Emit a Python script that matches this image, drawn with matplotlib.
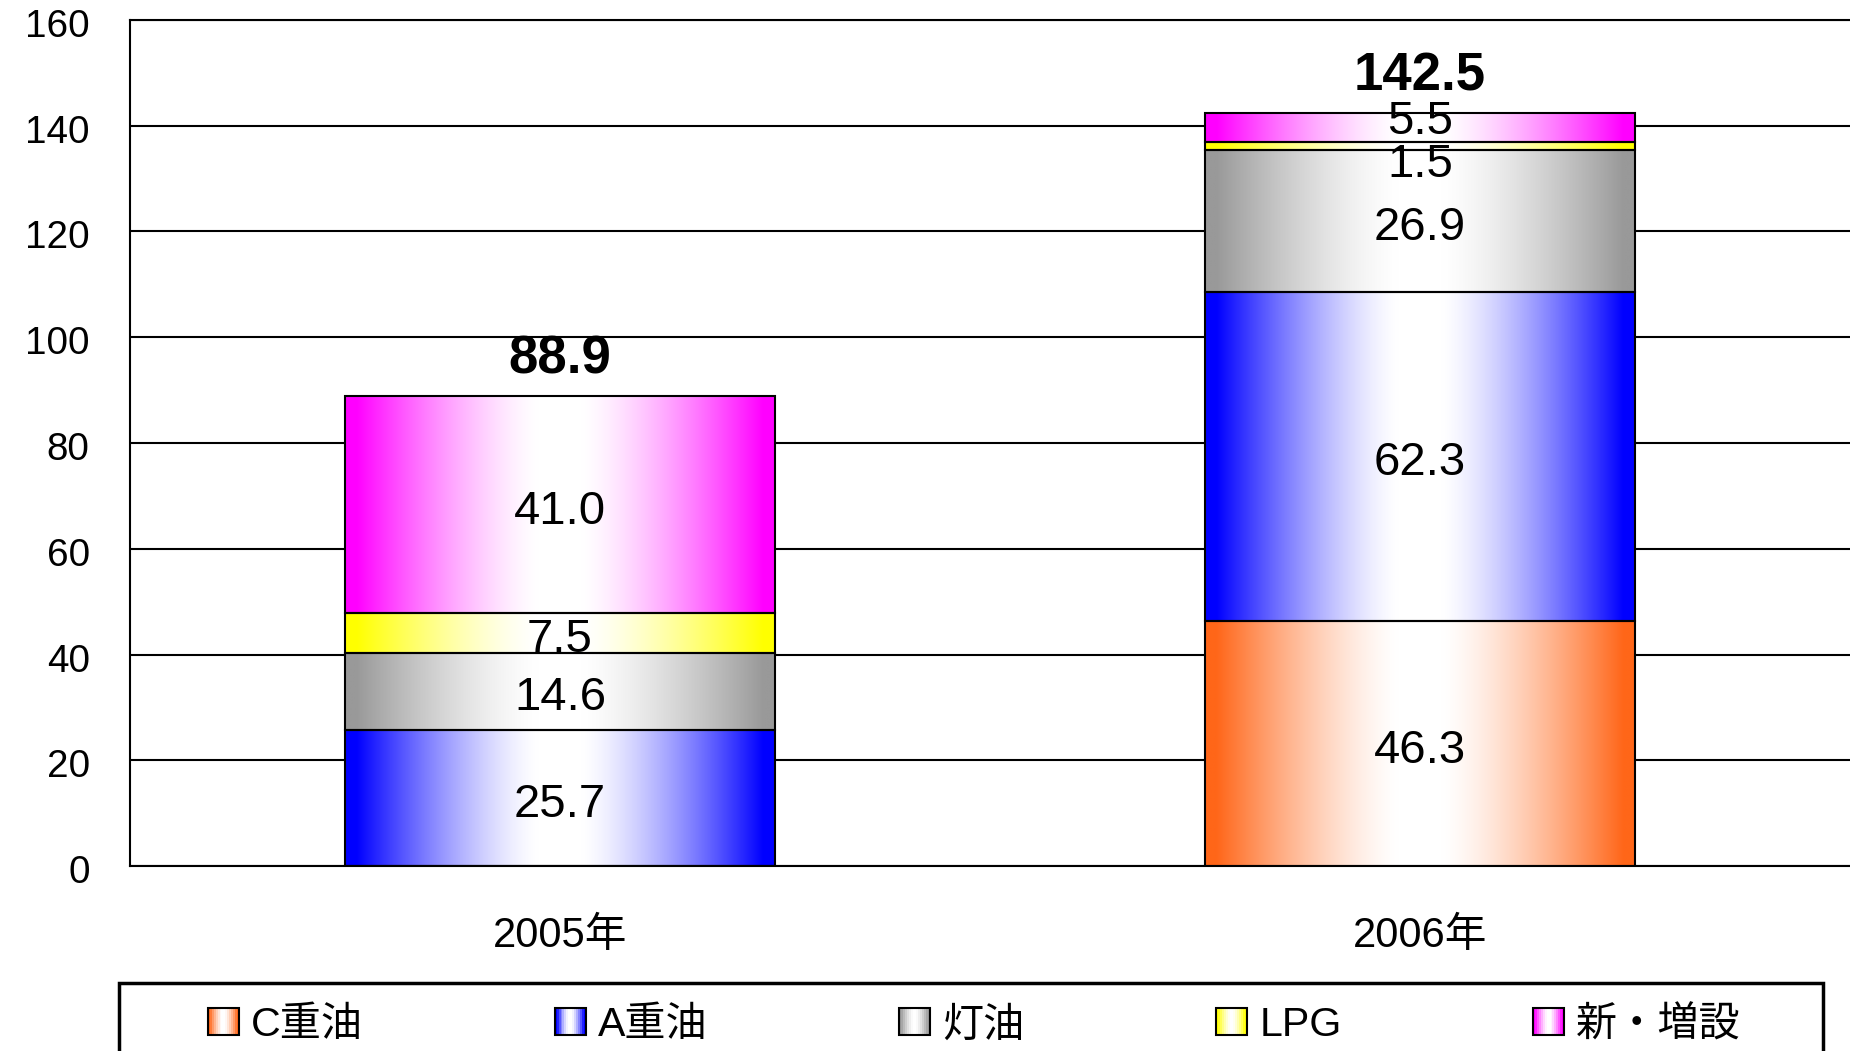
import numpy as np
import matplotlib.pyplot as plt
from matplotlib.patches import Rectangle
from matplotlib.legend_handler import HandlerBase
from matplotlib.colors import to_rgb
from matplotlib.transforms import ScaledTranslation

plt.rcParams['font.family'] = ['Liberation Sans', 'Noto Sans CJK JP', 'DejaVu Sans']

# data
years = ['2005年', '2006年']
series = ['C重油', 'A重油', '灯油', 'LPG', '新・増設']
c_oil = [0.0, 46.3]
a_oil = [25.7, 62.3]
kerosene = [14.6, 26.9]
lpg = [7.5, 1.5]
new_add = [41.0, 5.5]
totals = [88.9, 142.5]
colors = ['#ff6619', '#0000ff', '#999999', '#ffff00', '#ff00ff']


def shade(col, n=256):
    # horizontal gradient: colour at both edges, white in the middle
    t = np.abs(np.linspace(-1, 1, n))
    w = np.clip((t - 0.1) / 0.85, 0, 1) ** 1.4
    rgb = np.array(to_rgb(col))
    img = 1 - w[:, None] * (1 - rgb[None, :])
    return img[None, :, :]


class GradHandler(HandlerBase):
    def create_artists(self, legend, orig, xd, yd, w, h, fs, trans):
        col = orig.get_facecolor()
        n = 16
        strip = shade(col, n)[0]
        arts = []
        for i in range(n):
            arts.append(Rectangle((-xd + w * i / n, -yd), w / n + 0.3, h,
                                  facecolor=strip[i], edgecolor='none', transform=trans))
        arts.append(Rectangle((-xd, -yd), w, h, facecolor='none',
                              edgecolor='black', lw=1.5, transform=trans))
        return arts


fig = plt.figure(figsize=(18.5, 10.51), dpi=100)
ax = fig.add_axes([130 / 1850, 1 - 866 / 1051, 1720 / 1850, 846 / 1051])

x = np.arange(len(years))
stack = [c_oil, a_oil, kerosene, lpg, new_add]
bottom = np.zeros(len(years))
containers = []
for vals, col in zip(stack, colors):
    bars = ax.bar(x, vals, 0.5, bottom=bottom, facecolor='none',
                  edgecolor='black', lw=1.5, zorder=3)
    containers.append(bars)
    for p in bars.patches:
        if p.get_height() > 0:
            ax.imshow(shade(col), extent=(p.get_x(), p.get_x() + p.get_width(),
                                          p.get_y(), p.get_y() + p.get_height()),
                      aspect='auto', interpolation='bilinear', zorder=2)
    bottom = bottom + np.array(vals)

# segment labels (Excel nudged the two thin 2006 ones apart)
nudge = {(1, 3): -14, (1, 4): 3.5}
for k, (bars, vals) in enumerate(zip(containers, stack)):
    for i, (p, v) in enumerate(zip(bars.patches, vals)):
        if v <= 0:
            continue
        ax.annotate(f'{v:.1f}', (p.get_x() + p.get_width() / 2, p.get_y() + v / 2),
                    xytext=(0, nudge.get((i, k), -5)), textcoords='offset points',
                    ha='center', va='center', fontsize=34, zorder=5)

for i, tot in enumerate(totals):
    ax.annotate(f'{tot:.1f}', (x[i], tot), xytext=(0, 26), textcoords='offset points',
                ha='center', va='center', fontsize=38, fontweight='bold')

ax.set_xlim(-0.5, 1.5)
ax.set_ylim(0, 160)
ax.set_yticks(np.arange(0, 161, 20))
ax.set_xticks(x)
ax.set_xticklabels(years)
ax.tick_params(axis='y', length=0, pad=29, labelsize=27.8)
ax.tick_params(axis='x', length=0, pad=36, labelsize=30)
shift = ScaledTranslation(0, -0.03, fig.dpi_scale_trans)
for lab in ax.get_yticklabels():
    lab.set_transform(lab.get_transform() + shift)
ax.yaxis.grid(True, color='black', lw=1.5)
ax.set_axisbelow(True)
for s in ['left', 'top', 'bottom']:
    ax.spines[s].set_linewidth(1.5)
ax.spines['right'].set_visible(False)

proxies = [Rectangle((0, 0), 1, 1, facecolor=c) for c in colors]
fig.legend(proxies, series, loc='upper left',
           bbox_to_anchor=(208 / 1850, 1 - 1006 / 1051, 1533 / 1850, 0),
           mode='expand', ncol=5, frameon=False, borderpad=0, borderaxespad=0,
           fontsize=29.6, handlelength=0.75, handleheight=0.63, handletextpad=0.3,
           handler_map={p: GradHandler() for p in proxies})
fig.add_artist(Rectangle((119 / 1850, -0.05), 1704 / 1850, 0.05 + 1 - 983 / 1051,
                         transform=fig.transFigure, fill=False, edgecolor='black', lw=2.5))

fig.savefig('out.png')
